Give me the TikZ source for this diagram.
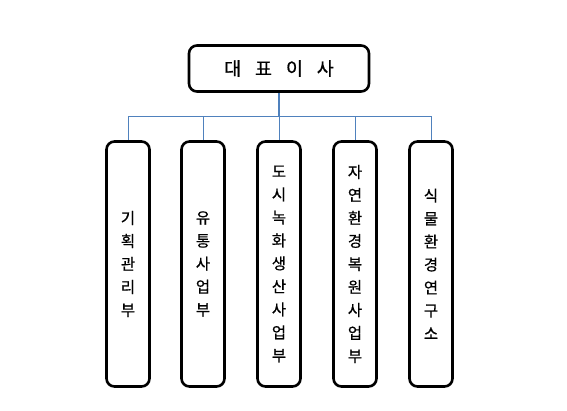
\documentclass[tikz,border=0pt]{standalone}
\usepackage{fontspec}
\newfontfamily\cjk[FakeBold=0.7]{Noto Sans CJK KR}
\begin{document}
\begin{tikzpicture}[x=1pt,y=-1pt,
  box/.style={draw=black, line width=2.6pt, rounded corners=8pt, fill=white},
  ceobox/.style={box, minimum width=180pt, minimum height=46pt, font=\cjk\fontsize{18.5}{20}\selectfont},
  deptbox/.style={box, minimum width=43pt, minimum height=245pt, align=center, font=\cjk\fontsize{15.5}{23}\selectfont, inner sep=0pt},
  conn/.style={draw={rgb,255:red,79;green,129;blue,189}, line width=1pt},
  trunk/.style={conn, line width=1.8pt}]
\useasboundingbox (0,0) rectangle (567,410);
\fill[white] (0,0) rectangle (567,410);
\coordinate (bus) at (279,116);
\node[ceobox] (ceo) at (279,68.5) {대\hspace{0.75em}표\hspace{0.75em}이\hspace{0.75em}사};
\node[deptbox] (d1) at (128,264) {기\\획\\관\\리\\부};
\node[deptbox] (d2) at (203,264) {유\\통\\사\\업\\부};
\node[deptbox] (d3) at (279,264) {도\\시\\녹\\화\\생\\산\\사\\업\\부};
\node[deptbox] (d4) at (355,264) {자\\연\\환\\경\\복\\원\\사\\업\\부};
\node[deptbox] (d5) at (431,264) {식\\물\\환\\경\\연\\구\\소};
\draw[trunk] (ceo.south) -- (bus);
\foreach \d in {d1,d2,d3,d4,d5}{\draw[conn] (\d.north) |- (bus);}
\end{tikzpicture}
\end{document}
